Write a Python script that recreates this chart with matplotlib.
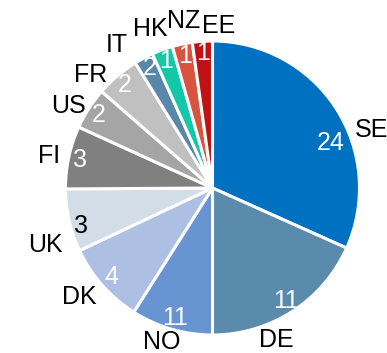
import numpy as np
import matplotlib
matplotlib.use("Agg")
import matplotlib.pyplot as plt

plt.rcParams['font.family'] = ['Liberation Sans', 'DejaVu Sans']

countries = ["SE", "DE", "NO", "DK", "UK", "FI", "US", "FR", "IT", "HK", "NZ", "EE"]
share = [31.7, 18.3, 9.0, 9.0, 6.9, 6.9, 4.6, 4.8, 2.1, 2.3, 2.2, 2.2]
counts = [24, 11, 11, 4, 3, 3, 2, 2, 2, 1, 1, 1]
colors = ["#0070C0", "#5A8AAC", "#6894D2", "#ADC0E4", "#D2DDE8", "#808080",
          "#A5A5A5", "#C0C0C0", "#5887AA", "#12C8A8", "#D9543E", "#C01214"]

# label nudges (degrees, radius) so the crowded names don't collide
name_nudge = {"SE": (-13, 1.15), "DE": (-10, 1.12), "NO": (-2, 1.10), "DK": (-2, 1.17),
              "UK": (6, 1.20), "FI": (1, 1.13), "US": (3, 1.13), "FR": (7, 1.13),
              "IT": (6, 1.17), "HK": (1.5, 1.16), "NZ": (-2, 1.15), "EE": (-6, 1.10)}
value_nudge = {"SE": (-12, 0.86), "UK": (3.5, 0.93)}
# the pale UK slice needs dark numbers
value_color = {"UK": "black"}

W, H = 387, 353
R = 147.0
cx, cy = 212.5, 188.0

fig = plt.figure(figsize=(W / 100, H / 100), dpi=100)
ax = fig.add_axes([0, 0, 1, 1])

wedges, _ = ax.pie(share, colors=colors, startangle=90, counterclock=False,
                   radius=1, wedgeprops=dict(edgecolor="white", linewidth=2.2))

for w, name, n in zip(wedges, countries, counts):
    mid = (w.theta1 + w.theta2) / 2
    da, r = name_nudge.get(name, (0, 1.14))
    a = np.deg2rad(mid + da)
    ax.text(r * np.cos(a), r * np.sin(a), name, ha="center", va="center",
            fontsize=18, color="black")
    da, r = value_nudge.get(name, (0, 0.92))
    a = np.deg2rad(mid + da)
    ax.text(r * np.cos(a), r * np.sin(a), str(n), ha="center", va="center",
            fontsize=18, color=value_color.get(name, "white"))

ax.set_aspect("auto")
ax.set_xlim(-cx / R, (W - cx) / R)
ax.set_ylim(-(H - cy) / R, cy / R)
ax.axis("off")

fig.savefig("out.png", dpi=100)
